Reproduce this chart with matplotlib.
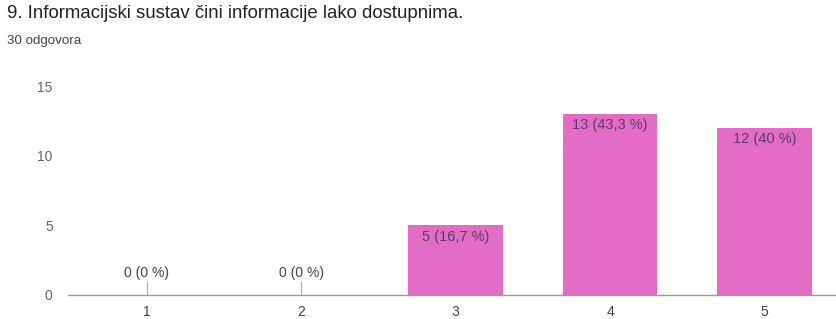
import matplotlib.pyplot as plt

# data
categories = ['1', '2', '3', '4', '5']
counts = [0, 0, 5, 13, 12]
percents = ['0', '0', '16,7', '43,3', '40']
y_ticks = [0, 5, 10, 15]

title = '9. Informacijski sustav čini informacije lako dostupnima.'
subtitle = '30 odgovora'

plt.rcParams['font.family'] = ['Liberation Sans', 'DejaVu Sans']

fig = plt.figure(figsize=(8.37, 3.19), dpi=100)
ax = fig.add_axes([68 / 837, 24 / 319, 1 - 68 / 837, 209 / 319])

bar_color = '#e36cc6'
xs = list(range(1, len(categories) + 1))
ax.bar(xs, counts, width=0.61, color=bar_color, zorder=2)

# labels
for x, c, p in zip(xs, counts, percents):
    lab = '{0} ({1} %)'.format(c, p)
    if c > 0:
        ax.annotate(lab, (x, c), xytext=(0, -3), textcoords='offset points',
                    ha='center', va='top', fontsize=10.5, color='#5b3d5e')
    else:
        ax.plot([x, x], [0, 0.9], color='#aaaaaa', lw=0.8, zorder=3)
        ax.annotate(lab, (x, 0.9), xytext=(0, 2), textcoords='offset points',
                    ha='center', va='bottom', fontsize=10, color='#444444')

ax.set_xlim(0.49, 5.47)
ax.set_ylim(0, 15)
ax.set_xticks(xs)
ax.set_xticklabels(categories)
ax.set_yticks(y_ticks)

for s in ['top', 'right', 'left']:
    ax.spines[s].set_visible(False)
ax.spines['bottom'].set_color('#999999')
ax.spines['bottom'].set_linewidth(1)
ax.tick_params(axis='both', length=0, labelsize=10, colors='#444444')
ax.tick_params(axis='y', pad=11, colors='#666666')
ax.tick_params(axis='x', pad=7)

fig.text(7 / 837, 1 - 13 / 319, title, fontsize=13.4, color='#222222',
         ha='left', va='center')
fig.text(7 / 837, 1 - 41 / 319, subtitle, fontsize=9.6, color='#444444',
         ha='left', va='center')

fig.savefig('out.png', dpi=100)
